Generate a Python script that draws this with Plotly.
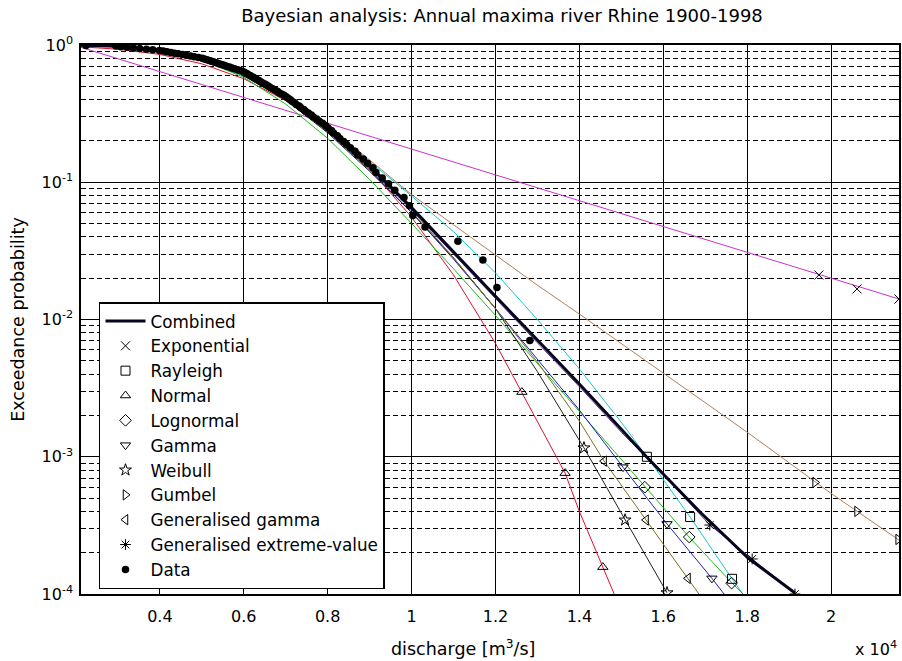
import plotly.graph_objects as go

# ---------------------------------------------------------------------------
# Values (discharge in m3/s, exceedance prob.)
# ---------------------------------------------------------------------------
x_tickvals = [4000, 6000, 8000, 10000, 12000, 14000, 16000, 18000, 20000]
x_ticktext = ["0.4", "0.6", "0.8", "1", "1.2", "1.4", "1.6", "1.8", "2"]
y_tickvals = [1e-4, 1e-3, 1e-2, 1e-1, 1]
y_ticktext = ["10<sup>-4</sup>", "10<sup>-3</sup>", "10<sup>-2</sup>", "10<sup>-1</sup>", "10<sup>0</sup>"]

# combined (Bayesian model average)
combined_q = [2120, 3000, 4000, 5000, 6000, 7000, 8000, 9000, 10000, 11000, 12000, 13000,
              14000, 15000, 15600, 16900, 18030, 19140]
combined_p = [0.9954, 0.9772, 0.9120, 0.8035, 0.6383, 0.4217, 0.2512, 0.1318, 0.06531, 0.0309,
              0.01479, 7.08e-3, 3.39e-3, 1.585e-3, 1.0e-3, 3.89e-4, 1.82e-4, 1.016e-4]

# exponential
expo_q = [2120, 6000, 10000, 14000, 18000, 21620]
expo_p = [0.961, 0.415, 0.1746, 0.0735, 0.0309, 0.0141]
expo_mq = [19710, 20620, 21620]
expo_mp = [0.0211, 0.0167, 0.0141]

# rayleigh
rayl_q = [2120, 3000, 4000, 5000, 6000, 7000, 8000, 9000, 10000, 11000, 12000, 13000, 14000,
          15000, 15610, 16640, 17640, 17900]
rayl_p = [0.9908, 0.9683, 0.8913, 0.7674, 0.5957, 0.3981, 0.2455, 0.1413, 0.0794, 0.04365,
          0.02188, 0.01, 4.37e-3, 1.78e-3, 1.0e-3, 3.64e-4, 1.29e-4, 1.0e-4]
rayl_mq = [15610, 16640, 17640]
rayl_mp = [1.0e-3, 3.64e-4, 1.29e-4]

# normal
norm_q = [2120, 3000, 4000, 5000, 6000, 7000, 8000, 9000, 10000, 11000, 12000, 12630, 13000,
          13660, 14000, 14560, 14830]
norm_p = [0.970, 0.932, 0.854, 0.729, 0.568, 0.394, 0.239, 0.125, 0.0557, 0.0211, 6.7e-3,
          2.96e-3, 1.79e-3, 7.6e-4, 4.0e-4, 1.57e-4, 1.0e-4]
norm_mq = [12630, 13660, 14560]
norm_mp = [2.96e-3, 7.6e-4, 1.57e-4]

# lognormal
logn_q = [2120, 3000, 4000, 5000, 6000, 7000, 8000, 9000, 10000, 11000, 12000, 13000, 14000,
          15000, 15560, 16620, 17630, 17900]
logn_p = [0.9977, 0.9817, 0.9120, 0.7762, 0.5821, 0.3715, 0.2089, 0.1047, 0.0501, 0.02344,
          0.01072, 4.79e-3, 2.14e-3, 9.55e-4, 6.05e-4, 2.59e-4, 1.21e-4, 1.0e-4]
logn_mq = [15560, 16620, 17630]
logn_mp = [6.0e-4, 2.6e-4, 1.2e-4]

# gamma
gamm_q = [2120, 3000, 4000, 5000, 6000, 7000, 8000, 9000, 10000, 11000, 12000, 13000, 14000,
          15040, 16090, 17160, 17450]
gamm_p = [0.9931, 0.9727, 0.9057, 0.7943, 0.6237, 0.4074, 0.2344, 0.1230, 0.0603, 0.02754,
          0.01202, 5.13e-3, 2.19e-3, 8.4e-4, 3.24e-4, 1.30e-4, 1.0e-4]
gamm_mq = [15040, 16090, 17160]
gamm_mp = [8.4e-4, 3.24e-4, 1.3e-4]

# weibull
weib_q = [2120, 3000, 4000, 5000, 6000, 7000, 8000, 9000, 10000, 11000, 12000, 13000, 14110,
          15090, 16090]
weib_p = [0.9908, 0.9705, 0.9016, 0.7852, 0.6095, 0.3981, 0.2291, 0.1202, 0.0603, 0.02818,
          0.01202, 4.17e-3, 1.16e-3, 3.46e-4, 1.02e-4]
weib_mq = [14110, 15090, 16090]
weib_mp = [1.16e-3, 3.46e-4, 1.02e-4]

# gumbel
gumb_q = [2120, 3000, 4000, 5000, 6000, 7000, 8000, 9000, 10000, 11000, 12000, 13000, 14000,
          16000, 18000, 20000, 21620]
gumb_p = [0.993, 0.973, 0.90, 0.79, 0.62, 0.42, 0.26, 0.145, 0.0813, 0.0490, 0.0295, 0.01778,
          0.01096, 4.07e-3, 1.51e-3, 5.41e-4, 2.47e-4]
gumb_mq = [19620, 20620, 21600]
gumb_mp = [6.5e-4, 4.0e-4, 2.5e-4]

# generalised gamma
ggam_q = [2120, 3000, 4000, 5000, 6000, 7000, 8000, 9000, 10000, 11000, 12000, 13000, 14000,
          14590, 15590, 16590, 16850]
ggam_p = [0.9931, 0.9727, 0.9036, 0.7943, 0.6166, 0.4074, 0.2344, 0.1259, 0.0631, 0.02818,
          0.01202, 4.90e-3, 1.82e-3, 9.3e-4, 3.46e-4, 1.30e-4, 1.0e-4]
ggam_mq = [14590, 15590, 16590]
ggam_mp = [9.3e-4, 3.46e-4, 1.3e-4]

# generalised extreme-value
gev_q = [2120, 3000, 4000, 5000, 6000, 7000, 8000, 9000, 10000, 11000, 12000, 13000, 14000,
         15000, 16000, 17110, 18120, 19140]
gev_p = [0.9954, 0.9750, 0.9078, 0.7980, 0.6310, 0.4169, 0.2455, 0.1274, 0.0631, 0.02985,
         0.01413, 6.76e-3, 3.24e-3, 1.51e-3, 7.41e-4, 3.18e-4, 1.80e-4, 1.016e-4]
gev_mq = [17110, 18120, 19140]
gev_mp = [3.18e-4, 1.80e-4, 1.0e-4]

# annual maxima (sorted, largest first) and their plotting positions
data_q = [12820, 12035, 11700, 11105, 10320, 10030, 9950, 9820, 9600, 9450,
          9300, 9150, 9080, 8950, 8850, 8720, 8650, 8540, 8450, 8380,
          8290, 8230, 8140, 8090, 8010, 7950, 7880, 7800, 7740, 7660,
          7610, 7540, 7470, 7430, 7360, 7320, 7250, 7210, 7150, 7110,
          7060, 7010, 6960, 6900, 6840, 6800, 6740, 6690, 6630, 6590,
          6540, 6500, 6440, 6400, 6360, 6310, 6270, 6230, 6190, 6150,
          6100, 6070, 6020, 5980, 5910, 5850, 5780, 5720, 5660, 5590,
          5530, 5470, 5410, 5350, 5290, 5230, 5180, 5120, 5060, 5010,
          4920, 4820, 4730, 4630, 4540, 4440, 4350, 4260, 4170, 4080,
          3990, 3830, 3680, 3520, 3370, 3220, 3070, 2950, 2240]
data_p = [0.00704, 0.01710, 0.02716, 0.03722, 0.04728, 0.05734, 0.06740, 0.07746, 0.08753, 0.09759,
          0.1076, 0.1177, 0.1278, 0.1378, 0.1479, 0.1579, 0.1680, 0.1781, 0.1881, 0.1982,
          0.2082, 0.2183, 0.2284, 0.2384, 0.2485, 0.2586, 0.2686, 0.2787, 0.2887, 0.2988,
          0.3089, 0.3189, 0.3290, 0.3390, 0.3491, 0.3592, 0.3692, 0.3793, 0.3893, 0.3994,
          0.4095, 0.4195, 0.4296, 0.4396, 0.4497, 0.4598, 0.4698, 0.4799, 0.4899, 0.5000,
          0.5101, 0.5201, 0.5302, 0.5402, 0.5503, 0.5604, 0.5704, 0.5805, 0.5905, 0.6006,
          0.6107, 0.6207, 0.6308, 0.6408, 0.6509, 0.6610, 0.6710, 0.6811, 0.6911, 0.7012,
          0.7113, 0.7213, 0.7314, 0.7414, 0.7515, 0.7616, 0.7716, 0.7817, 0.7918, 0.8018,
          0.8119, 0.8219, 0.8320, 0.8421, 0.8521, 0.8622, 0.8722, 0.8823, 0.8924, 0.9024,
          0.9125, 0.9225, 0.9326, 0.9427, 0.9527, 0.9628, 0.9728, 0.9829, 0.9930]

# ---------------------------------------------------------------------------
# styles: (name, line x, line y, marker x, marker y, line colour, marker symbol)
# ---------------------------------------------------------------------------
curves = [
    ("Exponential", expo_q, expo_p, expo_mq, expo_mp, "#cc30cc", "x-thin-open"),
    ("Rayleigh", rayl_q, rayl_p, rayl_mq, rayl_mp, "#18c8cc", "square-open"),
    ("Normal", norm_q, norm_p, norm_mq, norm_mp, "#dd1030", "triangle-up-open"),
    ("Lognormal", logn_q, logn_p, logn_mq, logn_mp, "#20b820", "diamond-open"),
    ("Gamma", gamm_q, gamm_p, gamm_mq, gamm_mp, "#2020b8", "triangle-down-open"),
    ("Weibull", weib_q, weib_p, weib_mq, weib_mp, "#202020", "star-open"),
    ("Gumbel", gumb_q, gumb_p, gumb_mq, gumb_mp, "#b08058", "triangle-right-open"),
    ("Generalised gamma", ggam_q, ggam_p, ggam_mq, ggam_mp, "#7a7020", "triangle-left-open"),
    ("Generalised extreme-value", gev_q, gev_p, gev_mq, gev_mp, "#6a3a9a", "asterisk-open"),
]

FONT = "DejaVu Sans, Liberation Sans, Arial, sans-serif"

fig = go.Figure()

# thin lines of the single distributions
for name, qx, py, mqx, mpy, col, sym in curves:
    fig.add_trace(go.Scatter(x=qx, y=py, mode="lines", line=dict(color=col, width=1),
                             showlegend=False, hoverinfo="skip"))

# combined thick line
fig.add_trace(go.Scatter(x=combined_q, y=combined_p, mode="lines", name="Combined",
                         line=dict(color="#050520", width=3), legendrank=1))

# markers of the single distributions (these carry the legend)
for rank, (name, qx, py, mqx, mpy, col, sym) in enumerate(curves, start=2):
    fig.add_trace(go.Scatter(x=mqx, y=mpy, mode="markers", name=name, legendrank=rank,
                             marker=dict(symbol=sym, size=9, color="black",
                                         line=dict(color="black", width=1))))

# observations
fig.add_trace(go.Scatter(x=data_q, y=data_p, mode="markers", name="Data", legendrank=11,
                         marker=dict(symbol="circle", size=7.5, color="black")))

minor_vals = [m * 10.0 ** e for e in range(-4, 0) for m in range(2, 10)]

axis_common = dict(
    showline=True, linecolor="black", linewidth=1.5, mirror="allticks",
    ticks="inside", ticklen=8, tickwidth=1, tickcolor="black",
    showgrid=True, gridcolor="#000000", gridwidth=1.4, zeroline=False,
    tickfont=dict(size=16, color="black"), automargin=False,
)

fig.update_layout(
    template="none",
    width=902, height=661,
    margin=dict(l=81, r=3, t=45, b=67),
    paper_bgcolor="white", plot_bgcolor="white",
    font=dict(family=FONT, color="black"),
    title=dict(text="Bayesian analysis: Annual maxima river Rhine 1900-1998",
               xref="paper", x=0.5147, xanchor="center", y=0.977, yanchor="middle",
               font=dict(size=18, color="black")),
    xaxis=dict(range=[2120, 21620], tickmode="array", tickvals=x_tickvals, ticktext=x_ticktext,
               ticklabelstandoff=7, **axis_common),
    yaxis=dict(type="log", range=[-4, 0], tickmode="array", tickvals=y_tickvals,
               ticktext=y_ticktext, ticklabelstandoff=3,
               minor=dict(tickmode="array", tickvals=minor_vals, ticks="inside", ticklen=5,
                          tickcolor="black", showgrid=True, gridcolor="#000000",
                          griddash="5px,3px", gridwidth=1.3),
               title=dict(text="Exceedance probability", font=dict(size=17.5), standoff=12),
               **axis_common),
    legend=dict(x=0.022, y=0.009, xanchor="left", yanchor="bottom",
                bgcolor="white", bordercolor="black", borderwidth=1.5, itemwidth=40,
                font=dict(size=16.8, color="black"), tracegroupgap=0),
    showlegend=True,
)

fig.add_annotation(text="discharge [m<sup>3</sup>/s]", xref="paper", yref="paper",
                   x=0.467, y=-0.0984, xanchor="center", yanchor="middle", showarrow=False,
                   font=dict(size=17.5, color="black"))
fig.add_annotation(text="x 10<sup>4</sup>", xref="paper", yref="paper", x=1.0, y=-0.0984,
                   xanchor="right", yanchor="middle", showarrow=False,
                   font=dict(size=16, color="black"))

# the page body has a default 8px margin; remove it so the figure fills the window
fig.write_html("out.html", config={"displayModeBar": False},
               post_script="document.body.style.margin='0';")
